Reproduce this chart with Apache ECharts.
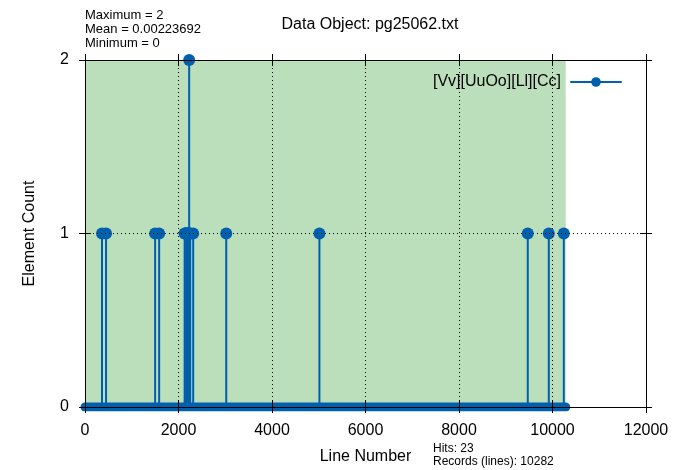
<!DOCTYPE html>
<html>
<head>
<meta charset="utf-8">
<script src="https://cdn.jsdelivr.net/npm/echarts@6/dist/echarts.min.js"></script>
<style>
  html, body { margin: 0; padding: 0; background: #fff; }
  #chart { width: 685px; height: 470px; }
</style>
</head>
<body>
<div id="chart"></div>
<script>
// line numbers that matched, and how many elements each one holds
var hitLines = [364, 450, 1500, 1586, 2131, 2139, 2152, 2163, 2171, 2184, 2195, 2206, 2217, 2228, 2243, 2251, 2314, 3021, 5014, 9471, 9921, 10242];
var hitCounts = [1, 1, 1, 1, 1, 1, 1, 1, 1, 1, 1, 1, 1, 2, 1, 1, 1, 1, 1, 1, 1, 1];
var totalRecords = 10282;
var statLines = ['Maximum = 2', 'Mean = 0.00223692', 'Minimum = 0'];
var infoLines = ['Hits: 23', 'Records (lines): 10282'];
var seriesName = '[Vv][UuOo][Ll][Cc]';

var blue = '#0060ad';
var font = 'Liberation Sans, Arial, sans-serif';

var points = hitLines.map(function (x, i) { return [x, hitCounts[i]]; });

function xAx(pos, inside, labels) {
    return {
        type: 'value', position: pos, min: 0, max: 12000, interval: 2000, z: 5,
        axisLine: { show: true, onZero: false, lineStyle: { color: '#000', width: 1 } },
        axisTick: { show: true, inside: inside, length: 6, lineStyle: { color: '#000' } },
        axisLabel: { show: labels, color: '#000', fontSize: 16, fontFamily: font, margin: 16,
                     formatter: function (v) { return String(v); } },
        splitLine: { show: false }
    };
}
function yAx(pos, inside, labels) {
    return {
        type: 'value', position: pos, min: 0, max: 2, interval: 1, z: 5,
        axisLine: { show: true, onZero: false, lineStyle: { color: '#000', width: 1 } },
        axisTick: { show: true, inside: inside, length: 6, lineStyle: { color: '#000' } },
        axisLabel: { show: labels, color: '#000', fontSize: 16, fontFamily: font, margin: 16 },
        splitLine: { show: false }
    };
}

var xAxes = [xAx('bottom', false, true), xAx('bottom', true, false), xAx('top', false, false), xAx('top', true, false)];
xAxes[0].splitLine = { show: true, lineStyle: { color: '#000', type: [1, 3], width: 1 } };
xAxes[0].name = 'Line Number';
xAxes[0].nameLocation = 'middle';
xAxes[0].nameGap = 42;
xAxes[0].nameTextStyle = { color: '#000', fontSize: 16, fontFamily: font };

var yAxes = [yAx('left', false, true), yAx('left', true, false), yAx('right', false, false), yAx('right', true, false)];
yAxes[0].splitLine = { show: true, lineStyle: { color: '#000', type: [1, 3], width: 1 } };
yAxes[0].name = 'Element Count';
yAxes[0].nameLocation = 'middle';
yAxes[0].nameGap = 47;
yAxes[0].nameTextStyle = { color: '#000', fontSize: 16, fontFamily: font };

var chart = echarts.init(document.getElementById('chart'));
chart.setOption({
    animation: false,
    backgroundColor: '#fff',
    title: {
        text: 'Data Object: pg25062.txt',
        left: 365, top: 12, textAlign: 'center',
        textStyle: { color: '#000', fontSize: 16, fontWeight: 'normal', fontFamily: font }
    },
    grid: { left: 85, right: 39, top: 60, bottom: 63 },
    legend: {
        data: [seriesName],
        right: 58, top: 69,
        align: 'right',
        itemWidth: 50, itemHeight: 12, itemGap: 0,
        lineStyle: { width: 2 },
        textStyle: { color: '#000', fontSize: 16, fontFamily: font, padding: [0, 5, 0, 0] }
    },
    xAxis: xAxes,
    yAxis: yAxes,
    series: [
        {
            name: seriesName,
            type: 'line',
            data: [[0, 0], [totalRecords, 0]],
            symbol: 'circle', symbolSize: 12, showSymbol: false,
            itemStyle: { color: blue },
            lineStyle: { color: blue, width: 9, cap: 'round' },
            z: 3,
            markArea: {
                silent: true,
                itemStyle: { color: '#bbdebb' },
                data: [[{ coord: [0, 0] }, { coord: [totalRecords, 2] }]]
            }
        },
        {
            name: 'stems',
            type: 'bar',
            data: points,
            barWidth: 2,
            itemStyle: { color: blue },
            z: 2
        },
        {
            name: 'marks',
            type: 'scatter',
            data: points,
            symbolSize: 12,
            itemStyle: { color: blue, opacity: 1 },
            z: 3
        }
    ],
    graphic: [
        {
            type: 'text', left: 85, top: 8,
            style: { text: statLines.join('\n'), fill: '#000', font: '13px ' + font, lineHeight: 14 }
        },
        {
            type: 'text', left: 433, top: 442,
            style: { text: infoLines.join('\n'), fill: '#000', font: '12px ' + font, lineHeight: 13 }
        }
    ]
});
</script>
</body>
</html>
